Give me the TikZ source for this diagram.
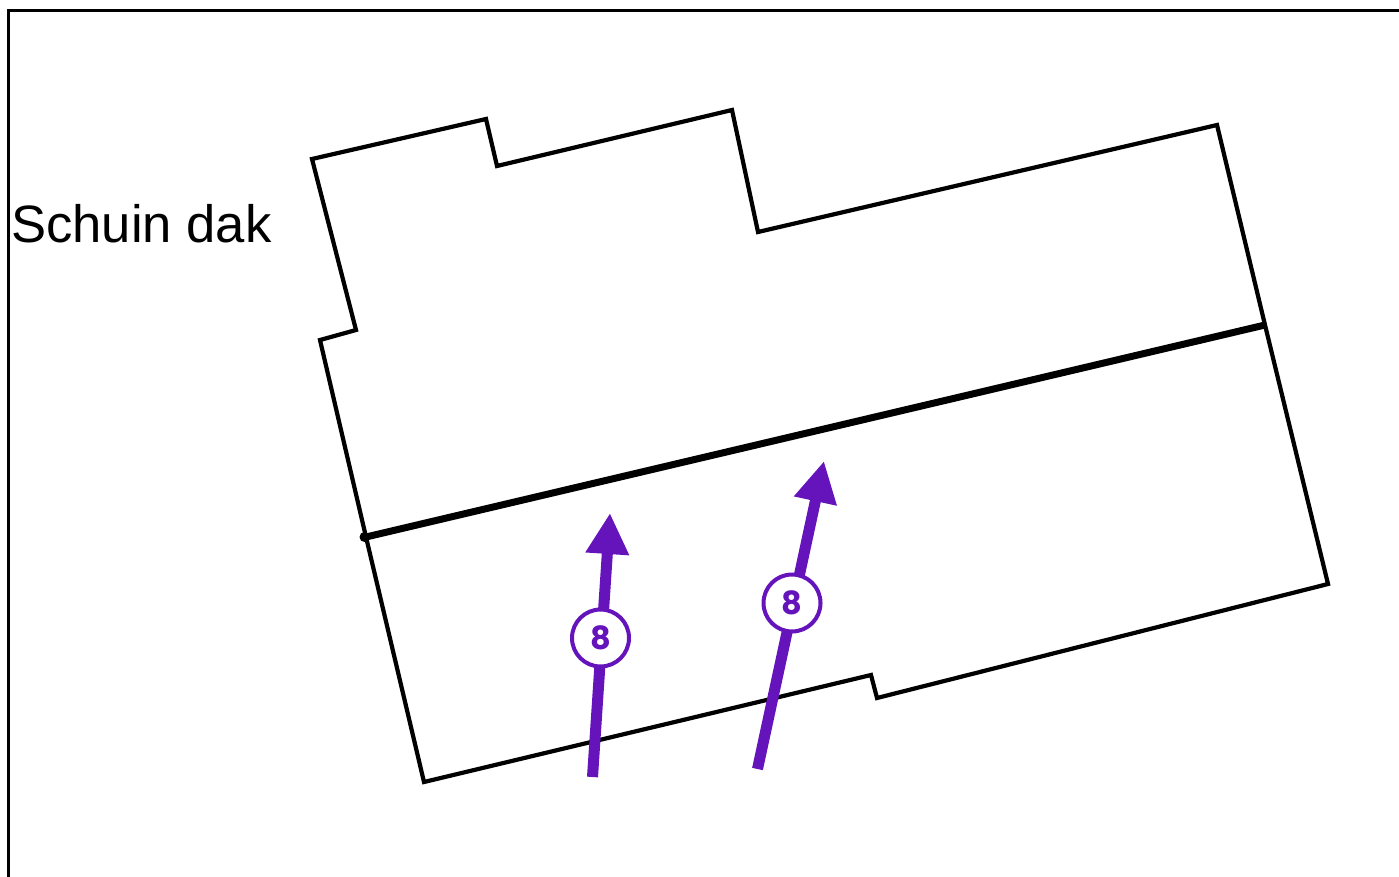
\documentclass[tikz,border=0pt]{standalone}
\usepackage{fontspec}
\setmainfont{Liberation Sans}
\newfontfamily\badgefont{Poppins}
\usetikzlibrary{arrows.meta}
\definecolor{slopepurple}{HTML}{6514BC}
\tikzset{
  roofline/.style={line width=4.2pt, line join=miter, black},
  ridgeline/.style={line width=7pt, black},
  slopearrow/.style={line width=11pt, slopepurple, -{Triangle[length=41pt,width=41pt]}},
  badge/.style={circle, draw=slopepurple, line width=4pt, fill=white, minimum size=57pt, inner sep=0pt, text=slopepurple, font=\badgefont\bfseries\fontsize{32}{32}\selectfont}
}
\begin{document}
\begin{tikzpicture}[x=1pt,y=-1pt]

\useasboundingbox (0,0) rectangle (1399,877);
\draw [line width=3pt] (8.5,877) -- (8.5,11) -- (1399,11);
\node (title) [right, inner sep=0pt, font=\fontsize{52.6}{52.6}\selectfont] at (11,224) {Schuin dak};

\draw [roofline] (312,159) -- (486,119) -- (497,166) -- (732,110) -- (758,232) -- (1217,125)
  -- (1265,325) -- (1328,584) -- (877,698) -- (871,675) -- (424,782) -- (366,537)
  -- (320,340) -- (356,330) -- cycle;

\coordinate (ridgeL) at (366,537);
\coordinate (ridgeR) at (1265,325);
\draw [ridgeline] (ridgeL) -- (ridgeR);
\fill (364.5,537) circle (5pt);

\coordinate (footA) at (592.5,777);
\coordinate (tipA) at (610,513);
\coordinate (footB) at (757.5,769);
\coordinate (tipB) at (824,461);
\draw [slopearrow] (footA) -- (tipA);
\draw [slopearrow] (footB) -- (tipB);
\node (badgeA) [badge] at (600.5,638) {\raisebox{-1pt}{8}};
\node (badgeB) [badge] at (792,603) {\raisebox{-1pt}{8}};

\end{tikzpicture}
\end{document}
